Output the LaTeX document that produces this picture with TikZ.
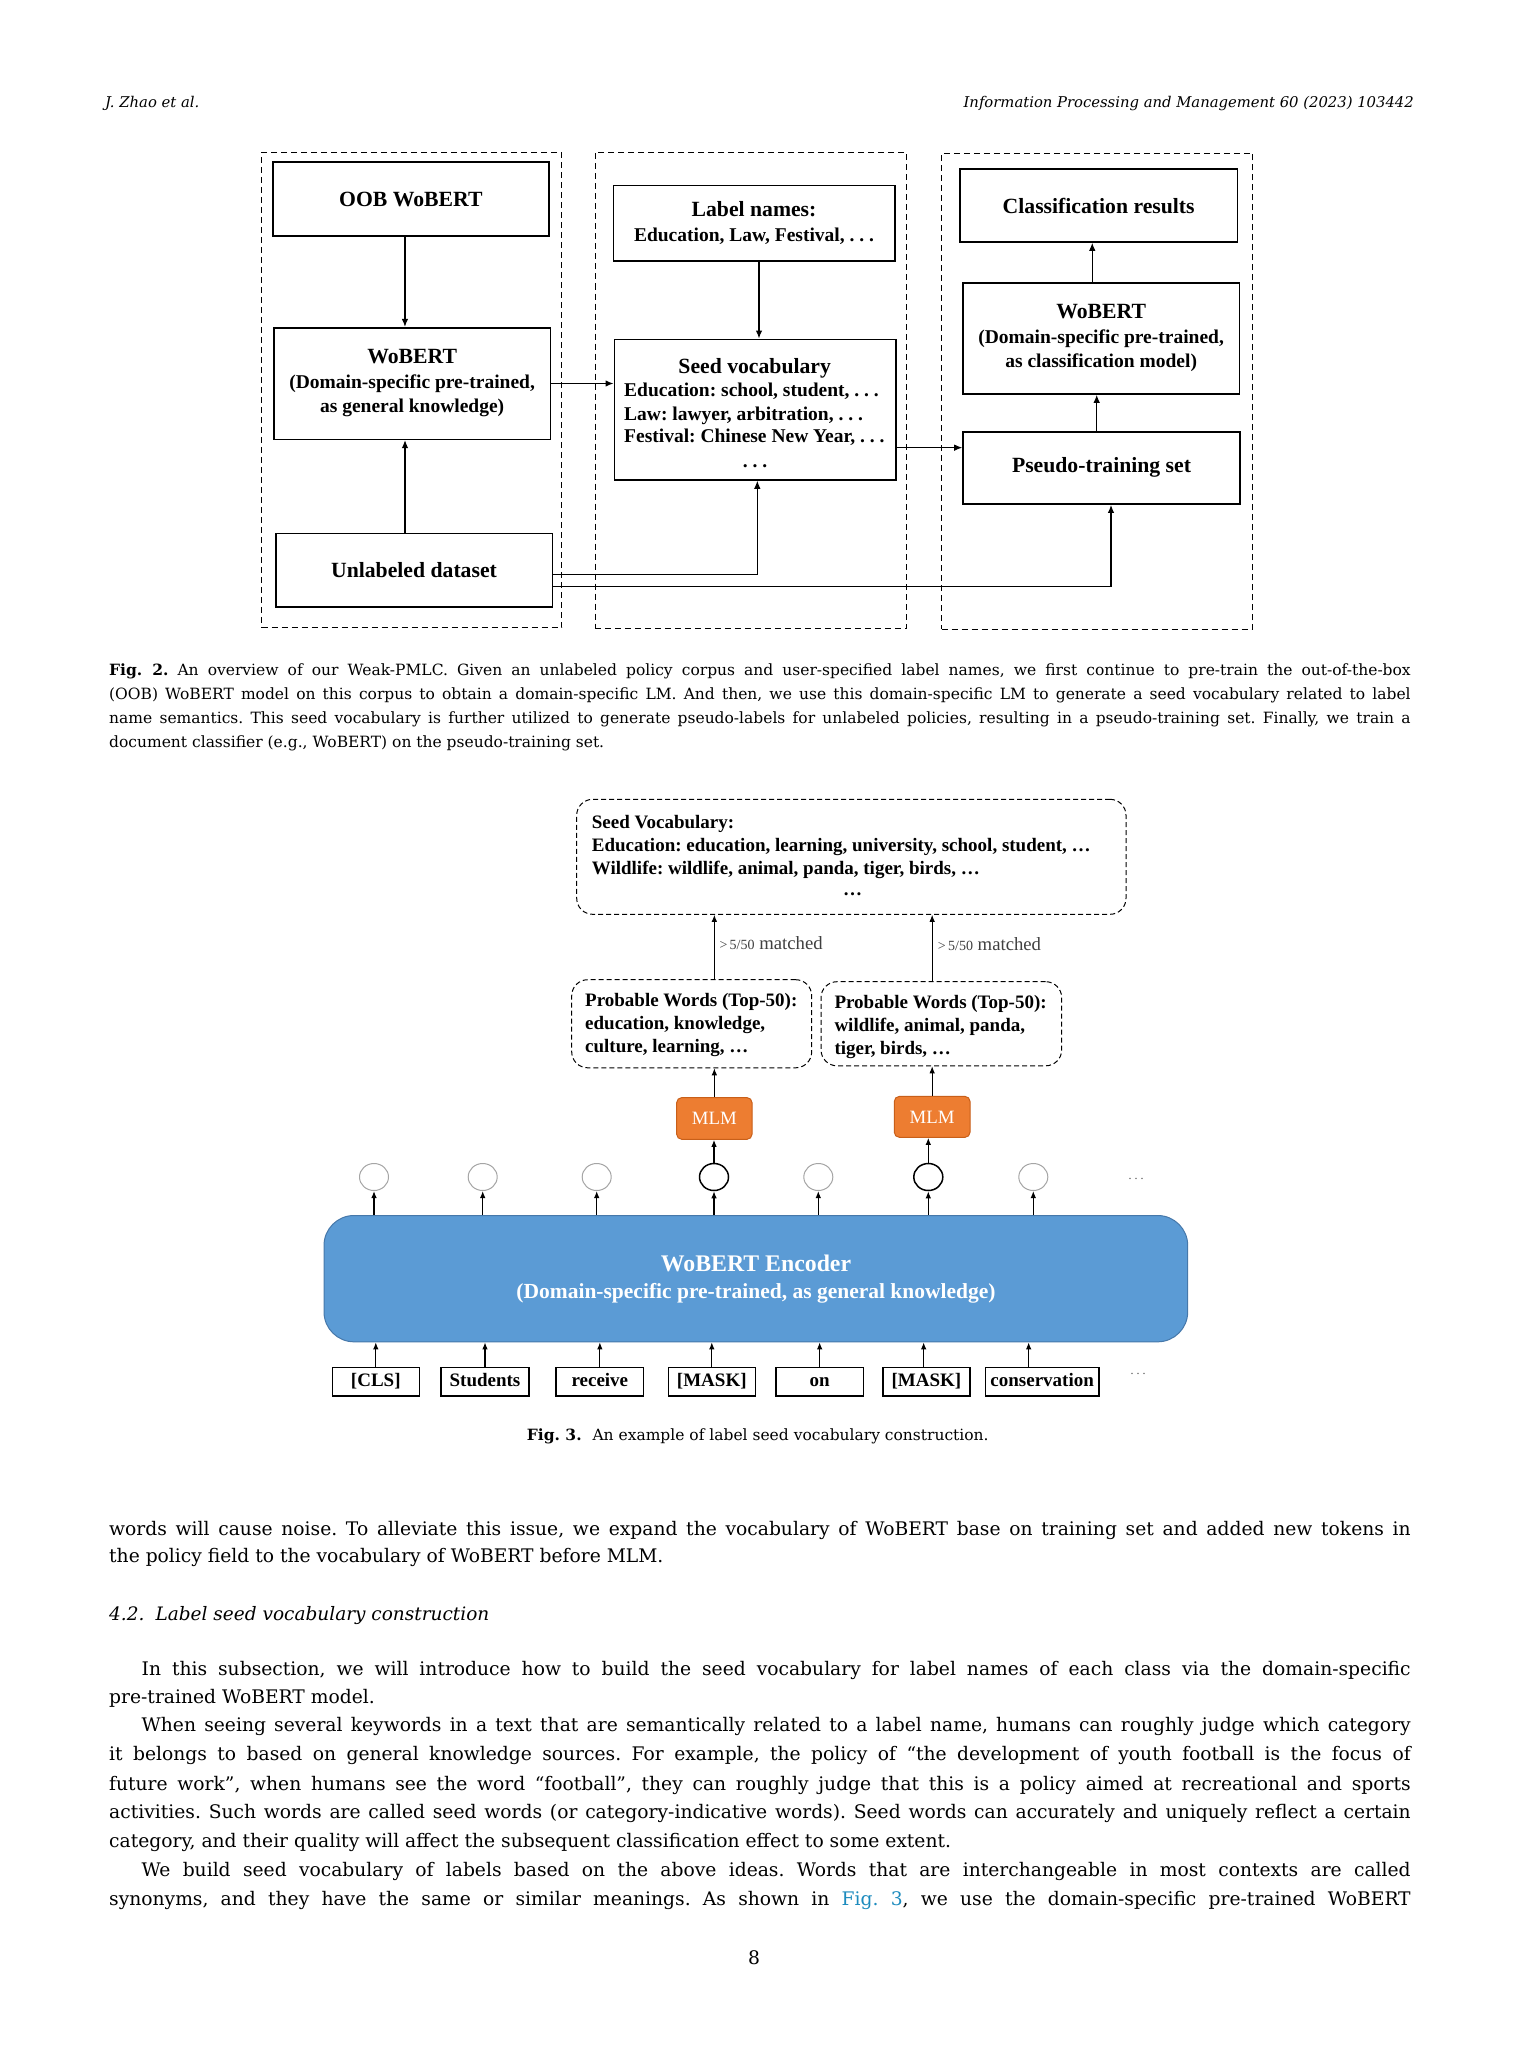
\documentclass[tikz,border=0pt]{standalone}
\usepackage{fontspec}
\setmainfont{Liberation Serif}
\newfontfamily\bodyf{DejaVu Serif}
\usetikzlibrary{arrows.meta,shapes.geometric,calc}
\frenchspacing
\definecolor{encblue}{RGB}{91,155,213}
\definecolor{encedge}{RGB}{70,120,170}
\definecolor{mlmor}{RGB}{237,125,49}
\definecolor{mlmedge}{RGB}{200,95,25}
\definecolor{lnk}{RGB}{28,139,190}
\definecolor{cgray}{RGB}{165,165,165}
\newcommand\pxbox[7]{\node[#6, minimum width={#4-#2}, minimum height={#5-#3}] (#1) at ({(#2+#4)/2},{(#3+#5)/2}) {#7};}
\tikzset{
 dframe/.style={draw, line width=1.2pt, dash pattern=on 6pt off 4pt, inner sep=0pt},
 bx/.style={draw, line width=1.6pt, inner sep=0pt, align=center, font=\bfseries\fontsize{19.5}{24.5}\selectfont},
 ttl/.style={font=\bfseries\fontsize{21.7}{24.5}\selectfont},
 arr/.style={-{Latex[length=8pt,width=6.5pt]}, line width=1.2pt},
 sarr/.style={-{Latex[length=7pt,width=5.5pt]}, line width=1pt},
 dbox/.style={draw, line width=1pt, dash pattern=on 5pt off 3pt, rounded corners=16pt, inner sep=0pt},
 ft2/.style={inner sep=0pt, font=\bfseries\fontsize{19.5}{22}\selectfont},
 ft3/.style={inner sep=0pt, anchor=base west, font=\bfseries\fontsize{19}{22}\selectfont},
 mlm/.style={draw=mlmedge, fill=mlmor, line width=1pt, rounded corners=5pt, inner sep=0pt, text=white, font=\fontsize{18.8}{20}\selectfont},
 cg/.style={ellipse, draw=cgray, line width=1pt, minimum width=29pt, minimum height=27pt, inner sep=0pt},
 cb/.style={cg, draw=black, line width=1.5pt},
 encs/.style={draw=encedge, fill=encblue, line width=1pt, rounded corners=30pt, inner sep=0pt},
 et/.style={inner sep=0pt, anchor=base, text=white},
 tok/.style={draw, line width=1.3pt, inner sep=0pt, font=\bfseries\fontsize{19}{20}\selectfont, text height=13.5pt, text depth=4pt},
 tokm/.style={tok, line width=1.6pt},
 lb/.style={inner sep=0pt, anchor=base west, text=black!75, font=\fontsize{18.7}{20}\selectfont},
 dts/.style={inner sep=0pt, text=black!70, font=\fontsize{12}{12}\selectfont},
 hd/.style={inner sep=0pt, font=\bodyf\itshape\fontsize{14.8}{16}\selectfont},
 captxt/.style={inner sep=0pt, anchor=base west, font=\bodyf\fontsize{15.5}{16}\selectfont},
 bt/.style={inner sep=0pt, anchor=base west, font=\bodyf\fontsize{18.7}{20}\selectfont},
}
\begin{document}
\begin{tikzpicture}[x=1pt,y=-1pt]
\useasboundingbox[fill=white] (0,0) rectangle (1512,2063);

% ---------- header ----------
\node[hd, anchor=base west] (h1) at (105,108) {J. Zhao et al.};
\node[hd, anchor=base east] (h2) at (1414,108) {Information Processing and Management 60 (2023) 103442};

% ---------- Fig. 2 ----------
\pxbox{f1}{261.7}{152.3}{561.7}{627.7}{dframe}{}
\pxbox{f2}{595.3}{152.3}{906.7}{628.3}{dframe}{}
\pxbox{f3}{941.7}{153.3}{1252.7}{629.3}{dframe}{}

\pxbox{oob}{272.7}{162.3}{549}{236}{bx}{\fontsize{21.7}{24.5}\selectfont OOB WoBERT}
\pxbox{wob}{274}{327.7}{550.3}{439.3}{bx}{{\fontsize{21.7}{24.5}\selectfont WoBERT}\\(Domain-specific pre-trained,\\as general knowledge)}
\pxbox{unl}{275.7}{533.3}{552.3}{606.7}{bx}{\fontsize{21.7}{24.5}\selectfont Unlabeled dataset}
\pxbox{lab}{613.3}{185.7}{894.7}{260.7}{bx}{{\fontsize{21.7}{24.5}\selectfont Label names:}\\Education, Law, Festival, . . .}
\pxbox{seed}{614.3}{339.3}{895.7}{480}{bx}{}
\node[ft2, ttl, anchor=base] (sv0) at (754.7,373) {Seed vocabulary};
\node[ft2, anchor=base west] (sv1) at (624,396.5) {Education: school, student, . . .};
\node[ft2, anchor=base west] (sv2) at (624,420) {Law: lawyer, arbitration, . . .};
\node[ft2, anchor=base west] (sv3) at (624,442.5) {Festival: Chinese New Year, . . .};
\node[ft2, anchor=base] (sv4) at (755,467.5) {. . .};
\pxbox{cls}{960}{169}{1237.3}{242}{bx}{\fontsize{21.7}{24.5}\selectfont Classification results}
\pxbox{wob2}{963}{282.7}{1239.3}{394}{bx}{{\fontsize{21.7}{24.5}\selectfont WoBERT}\\(Domain-specific pre-trained,\\as classification model)}
\pxbox{pse}{963}{431.7}{1240}{504}{bx}{\fontsize{21.7}{24.5}\selectfont Pseudo-training set}

\path ([xshift=-5.9pt]oob.south) coordinate (a1);
\draw[arr] (a1) -- (a1 |- wob.north);
\path ([xshift=-9pt]unl.north) coordinate (a2);
\draw[arr] (a2) -- (a2 |- wob.south);
\draw[arr] (wob.east) -- (wob.east -| seed.west);
\path ([xshift=5pt]lab.south) coordinate (a3);
\draw[arr] (a3) -- (a3 |- seed.north);
\path ([yshift=-4pt]unl.east) coordinate (a4);
\draw[arr, line width=1pt] (a4) -| ([xshift=2.3pt]seed.south);
\path ([yshift=-16.7pt]unl.east) coordinate (a5);
\draw[arr, line width=1.5pt] (a5) -| ([xshift=9.5pt]pse.south);
\path ([yshift=-38pt]seed.east) coordinate (a6);
\draw[arr, line width=1pt] (a6) -- (a6 -| pse.west);
\path ([xshift=-4.8pt]pse.north) coordinate (a7);
\draw[arr] (a7) -- (a7 |- wob2.south);
\path ([xshift=-8.9pt]wob2.north) coordinate (a8);
\draw[arr] (a8) -- (a8 |- cls.south);

% ---------- Fig. 2 caption ----------
\node[captxt] (c2a) at (109,675.5) {\makebox[1301.5pt][s]{\textbf{Fig.~2.} An overview of our Weak-PMLC. Given an unlabeled policy corpus and user-specified label names, we first continue to pre-train the out-of-the-box}};
\node[captxt] (c2b) at (109,699.2) {\makebox[1301.5pt][s]{(OOB) WoBERT model on this corpus to obtain a domain-specific LM. And then, we use this domain-specific LM to generate a seed vocabulary related to label}};
\node[captxt] (c2c) at (109,723) {\makebox[1301.5pt][s]{name semantics. This seed vocabulary is further utilized to generate pseudo-labels for unlabeled policies, resulting in a pseudo-training set. Finally, we train a}};
\node[captxt] (c2d) at (109,747.5) {document classifier (e.g., WoBERT) on the pseudo-training set.};

% ---------- Fig. 3 ----------
\pxbox{sv}{576.7}{799.3}{1126}{914.3}{dbox}{}
\node[ft3] (s1) at (591.7,828) {Seed Vocabulary:};
\node[ft3] (s2) at (591.7,851) {Education: education, learning, university, school, student, …};
\node[ft3] (s3) at (591.7,874) {Wildlife: wildlife, animal, panda, tiger, birds, …};
\node[ft3, anchor=base] (s4) at (852.7,895) {…};

\pxbox{p1}{571.7}{979.7}{811.7}{1067.8}{dbox}{}
\pxbox{p2}{821}{981.7}{1061.7}{1065.8}{dbox}{}
\node[ft3] (p1a) at (585,1006.3) {Probable Words (Top-50):};
\node[ft3] (p1b) at (585,1029.4) {education, knowledge,};
\node[ft3] (p1c) at (585,1052) {culture, learning, …};
\node[ft3] (p2a) at (834.3,1008) {Probable Words (Top-50):};
\node[ft3] (p2b) at (834.3,1031) {wildlife, animal, panda,};
\node[ft3] (p2c) at (834.3,1054.5) {tiger, birds, …};

\pxbox{m1}{676.7}{1097.6}{752}{1139.3}{mlm}{MLM}
\pxbox{m2}{894.3}{1096.4}{970}{1137.3}{mlm}{MLM}

\draw[sarr] (m1.north) -- (m1.north |- p1.south);
\draw[sarr] (m2.north) -- (m2.north |- p2.south);
\draw[sarr] (m1.north |- p1.north) -- (m1.north |- sv.south);
\draw[sarr] (m2.north |- p2.north) -- (m2.north |- sv.south);
\node[lb] (l1) at (719.3,949) {{\fontsize{14}{14}\selectfont >\,5/50} matched};
\node[lb] (l2) at (937.7,950.5) {{\fontsize{14}{14}\selectfont >\,5/50} matched};

\pxbox{enc}{324}{1215.5}{1187.7}{1341.8}{encs}{}
\node[et, font=\bfseries\fontsize{23.8}{26}\selectfont] (e1) at (756,1271) {WoBERT Encoder};
\node[et, font=\bfseries\fontsize{21.5}{24}\selectfont] (e2) at (756,1298.5) {(Domain-specific pre-trained, as general knowledge)};

\node[cg] (c1) at (374,1177) {};
\node[cg] (c2) at (482.7,1177) {};
\node[cg] (c3) at (596.7,1177) {};
\node[cb] (c4) at (714,1177) {};
\node[cg] (c5) at (818.3,1177) {};
\node[cb] (c6) at (928.3,1177) {};
\node[cg] (c7) at (1033.3,1177) {};
\foreach \c in {c1,c2,c3,c4,c5,c6,c7}{
  \draw[sarr, line width=1.2pt] (\c.south |- enc.north) -- (\c.south);
}
\draw[sarr, line width=1.2pt] (c4.north) -- (c4.north |- m1.south);
\draw[sarr, line width=1.2pt] (c6.north) -- (c6.north |- m2.south);
\node[dts] (d1) at (1136,1179) {. . .};

\pxbox{t1}{332.3}{1367.6}{419.3}{1396.1}{tok}{[CLS]}
\pxbox{t2}{441}{1367.6}{529}{1396.1}{tok}{Students}
\pxbox{t3}{556}{1367.6}{643.7}{1396.1}{tok}{receive}
\pxbox{t4}{668.3}{1367.6}{755.3}{1396.1}{tokm}{[MASK]}
\pxbox{t5}{776}{1367.6}{863.3}{1396.1}{tok}{on}
\pxbox{t6}{882.7}{1367.6}{970}{1396.1}{tokm}{[MASK]}
\pxbox{t7}{985.3}{1367.6}{1099}{1396.1}{tok}{conservation}
\foreach \t in {t1,t2,t3,t4,t5}{
  \draw[sarr, line width=1.2pt] (\t.north) -- (\t.north |- enc.south);
}
\path ([xshift=-2.7pt]t6.north) coordinate (t6a);
\draw[sarr, line width=1.2pt] (t6a) -- (t6a |- enc.south);
\path ([xshift=-13.5pt]t7.north) coordinate (t7a);
\draw[sarr, line width=1.2pt] (t7a) -- (t7a |- enc.south);
\node[dts] (d2) at (1138,1374) {. . .};

\node[captxt, anchor=base] (c3cap) at (757.8,1440.5) {\textbf{Fig.~3.}\hspace{0.7em}An example of label seed vocabulary construction.};

% ---------- body text ----------
\node[bt] (b1) at (109,1535) {\makebox[1301.5pt][s]{words will cause noise. To alleviate this issue, we expand the vocabulary of WoBERT base on training set and added new tokens in}};
\node[bt] (b2) at (109,1562) {the policy field to the vocabulary of WoBERT before MLM.};
\node[bt, font=\bodyf\itshape\fontsize{18.5}{20}\selectfont] (hd2) at (109,1620) {4.2.\hspace{0.6em}Label seed vocabulary construction};
\node[bt] (b3) at (141.5,1675) {\makebox[1269pt][s]{In this subsection, we will introduce how to build the seed vocabulary for label names of each class via the domain-specific}};
\node[bt] (b4) at (109,1703.3) {pre-trained WoBERT model.};
\node[bt] (b5) at (141.5,1731.7) {\makebox[1269pt][s]{When seeing several keywords in a text that are semantically related to a label name, humans can roughly judge which category}};
\node[bt] (b6) at (109,1760.7) {\makebox[1301.5pt][s]{it belongs to based on general knowledge sources. For example, the policy of “the development of youth football is the focus of}};
\node[bt] (b7) at (109,1790) {\makebox[1301.5pt][s]{future work”, when humans see the word “football”, they can roughly judge that this is a policy aimed at recreational and sports}};
\node[bt] (b8) at (109,1818.3) {\makebox[1301.5pt][s]{activities. Such words are called seed words (or category-indicative words). Seed words can accurately and uniquely reflect a certain}};
\node[bt] (b9) at (109,1847.3) {category, and their quality will affect the subsequent classification effect to some extent.};
\node[bt] (b10) at (141.5,1876.7) {\makebox[1269pt][s]{We build seed vocabulary of labels based on the above ideas. Words that are interchangeable in most contexts are called}};
\node[bt] (b11) at (109,1905) {\makebox[1301.5pt][s]{synonyms, and they have the same or similar meanings. As shown in \textcolor{lnk}{Fig.~3}, we use the domain-specific pre-trained WoBERT}};
\node[bt, anchor=base] (pg) at (754,1964) {8};
\end{tikzpicture}
\end{document}
